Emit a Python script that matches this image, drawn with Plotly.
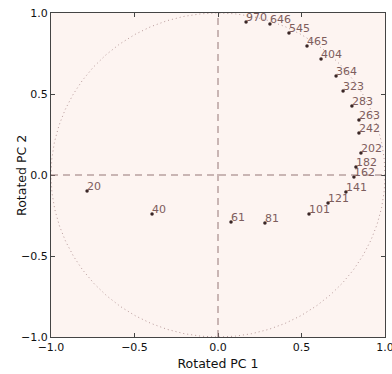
import numpy as np
import plotly.graph_objects as go

labels = ["20", "40", "61", "81", "101", "121", "141", "162", "182", "202",
          "242", "263", "283", "323", "364", "404", "465", "545", "646", "970"]
pc1 = [-0.784, -0.395, 0.078, 0.281, 0.545, 0.659, 0.766, 0.814, 0.826, 0.856,
       0.844, 0.844, 0.802, 0.749, 0.707, 0.617, 0.533, 0.425, 0.311, 0.168]
pc2 = [-0.099, -0.241, -0.290, -0.296, -0.241, -0.173, -0.105, -0.012, 0.049, 0.136,
       0.259, 0.340, 0.426, 0.519, 0.611, 0.716, 0.796, 0.877, 0.932, 0.944]

ticks = [-1.0, -0.5, 0.0, 0.5, 1.0]
tick_text = ["\u22121.0", "\u22120.5", "0.0", "0.5", "1.0"]

font = "DejaVu Sans"
label_col = "#7d5d5d"
guide_col = "#957777"

fig = go.Figure()

theta = np.linspace(0, 2 * np.pi, 721)
fig.add_trace(go.Scatter(x=np.cos(theta), y=np.sin(theta), mode="lines",
                         line=dict(color="#b89a9a", width=1, dash="1px,3px"),
                         hoverinfo="skip", showlegend=False))

fig.add_hline(y=0, line=dict(color=guide_col, width=1, dash="7px,5px"))
fig.add_vline(x=0, line=dict(color=guide_col, width=1, dash="7px,5px"))

fig.add_trace(go.Scatter(x=pc1, y=pc2, mode="markers",
                         marker=dict(color="#3a2626", size=3.5),
                         showlegend=False))

for lab, x, y in zip(labels, pc1, pc2):
    fig.add_annotation(x=x, y=y, text=lab, showarrow=False,
                       xanchor="left", yanchor="bottom", borderpad=0,
                       yshift=-3, xshift=-1,
                       font=dict(family=font, size=11, color=label_col))

# y-axis title placed as annotation, closer to tick labels like the reference
fig.add_annotation(xref="paper", yref="paper", x=-0.09, y=0.5,
                   text="Rotated PC 2", textangle=-90, showarrow=False,
                   xanchor="center", yanchor="middle",
                   font=dict(family=font, size=12.5, color="#111"))

axis_common = dict(range=[-1, 1], tickvals=ticks, ticktext=tick_text,
                   ticks="inside", ticklen=4, tickcolor="#444",
                   showline=True, linecolor="#444", linewidth=1, mirror="ticks",
                   showgrid=False, zeroline=False, ticklabeloverflow="allow",
                   tickfont=dict(family=font, size=11, color="#111"))

fig.update_xaxes(**axis_common,
                 title=dict(text="Rotated PC 1", font=dict(family=font, size=12.5, color="#111"), standoff=6))
fig.update_yaxes(**axis_common)

fig.update_layout(width=392, height=374,
                  margin=dict(l=51, r=7, t=13, b=37, autoexpand=False),
                  paper_bgcolor="white", plot_bgcolor="#fdf4f1",
                  showlegend=False)

fig.write_html("out.html")
